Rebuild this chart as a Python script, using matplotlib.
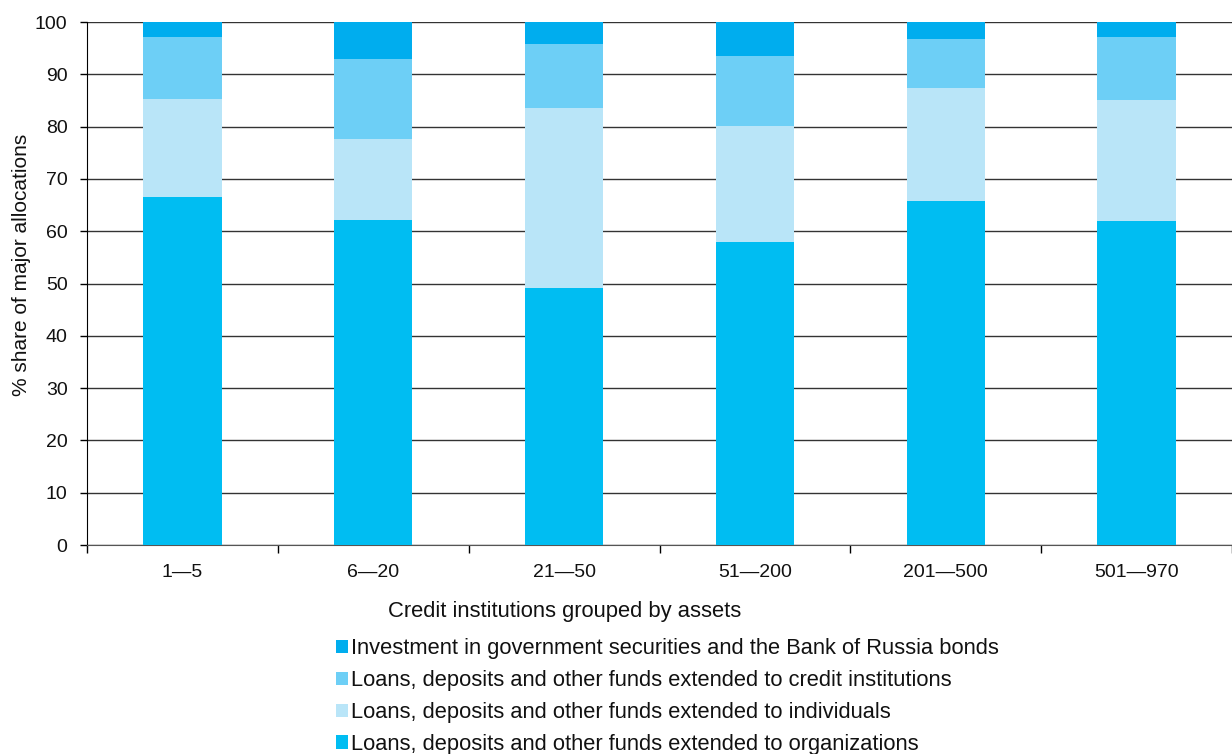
import matplotlib
matplotlib.use("Agg")
import matplotlib.pyplot as plt
from matplotlib.patches import Patch
import numpy as np

categories = ["1—5", "6—20", "21—50", "51—200", "201—500", "501—970"]
organizations = [66.5, 62.1, 49.1, 57.9, 65.8, 61.9]
individuals = [18.8, 15.5, 34.5, 22.2, 21.6, 23.2]
credit_inst = [11.8, 15.3, 12.2, 13.4, 9.3, 12.0]
gov_securities = [2.9, 7.1, 4.2, 6.5, 3.3, 2.9]

series_names = [
    "Loans, deposits and other funds extended to organizations",
    "Loans, deposits and other funds extended to individuals",
    "Loans, deposits and other funds extended to credit institutions",
    "Investment in government securities and the Bank of Russia bonds",
]
colors = ["#00BDF2", "#B9E5F8", "#6DCFF6", "#00ADEE"]

plt.rcParams['font.family'] = ['Liberation Sans', 'DejaVu Sans']

fig = plt.figure(figsize=(12.32, 7.54), dpi=100)
ax = fig.add_axes([87/1232, 1 - 545/754, 1 - 87/1232, (545 - 22)/754])

x = np.arange(len(categories)) + 0.5
bottom = np.zeros(len(categories))
for vals, col in zip([organizations, individuals, credit_inst, gov_securities], colors):
    ax.bar(x, vals, width=0.41, bottom=bottom, color=col, zorder=3)
    bottom += np.array(vals)

ax.set_xlim(0, len(categories))
ax.set_ylim(0, 100)
ax.set_yticks(range(0, 101, 10))
ax.tick_params(axis='y', labelsize=14, length=5, width=1, direction='out',
               color='black', pad=9, labelcolor='#111111')
ax.set_xticks(x)
ax.set_xticklabels(categories, fontsize=14, color='#111111')
ax.tick_params(axis='x', length=0, pad=14)
ax.set_xticks(np.arange(0, len(categories) + 1), minor=True)
ax.tick_params(axis='x', which='minor', length=6, width=1, color='black')
ax.grid(axis='y', color='#333333', linewidth=1.0, zorder=0)
for s in ['top', 'right']:
    ax.spines[s].set_visible(False)
ax.spines['left'].set_color('black')
ax.spines['bottom'].set_color('#555555')
ax.set_ylabel("% share of major allocations", fontsize=15, color='#111111')
ax.yaxis.set_label_coords((31.5 - 87) / 1145, (545 - 264.5) / 523)

fig.text(388/1232, 1 - 611/754, "Credit institutions grouped by assets",
         fontsize=15.8, va='center', ha='left', color='#111111')

handles = [Patch(facecolor=c, edgecolor='none') for c in colors[::-1]]
labels = series_names[::-1]
fig.legend(handles, labels, loc='upper left', bbox_to_anchor=(336/1232, 1 - 638/754),
           frameon=False, fontsize=15.75, handlelength=0.55, handleheight=0.55,
           handletextpad=0.15, labelspacing=0.5, borderpad=0, borderaxespad=0,
           labelcolor='#111111')

fig.savefig("out.png", dpi=100)
